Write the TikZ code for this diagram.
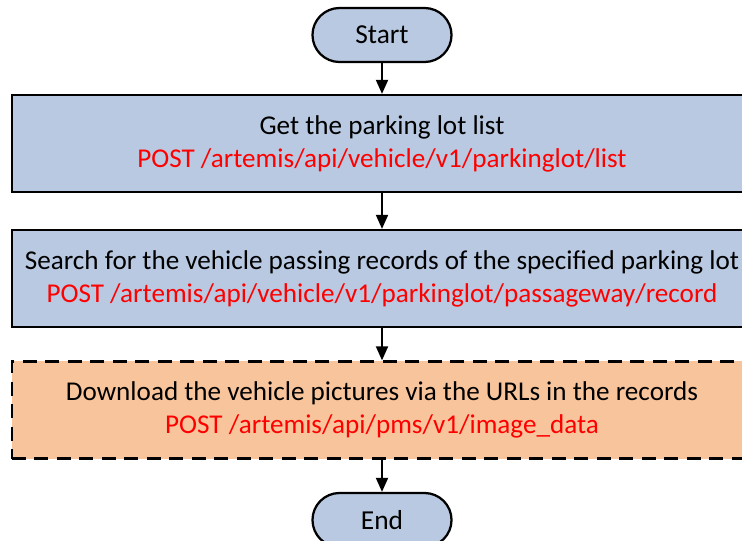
\documentclass[tikz,border=0pt]{standalone}
\usepackage{fontspec}
\setmainfont{Carlito}
\usetikzlibrary{arrows.meta}

\definecolor{boxblue}{RGB}{184,201,225}
\definecolor{boxorange}{RGB}{248,196,156}

\tikzset{
  terminal/.style={draw, line width=1.6pt, fill=boxblue, rounded corners=0.675cm,
    minimum width=3.475cm, minimum height=1.35cm, font=\fontsize{19.5}{23}\selectfont},
  process/.style={draw, line width=1.6pt, fill=boxblue, minimum width=18.5cm,
    minimum height=2.425cm, align=center, font=\fontsize{19.3}{23.4}\selectfont},
  download/.style={process, fill=boxorange, dash pattern=on 10pt off 6pt},
  flow/.style={line width=1.3pt, -{Triangle[length=0.35cm,width=0.3cm]}}
}

\begin{document}
\begin{tikzpicture}[x=0.025cm, y=-0.025cm]
  \clip (0,0) rectangle (742,540);
  \node[terminal] (start) at (382,35) {Start};
  \node[process] (list) at (382,143.5) {Get the parking lot list\\
    \textcolor{red}{POST /artemis/api/vehicle/v1/parkinglot/list}};
  \node[process] (search) at (382,278.5) {Search for the vehicle passing records of the specified parking lot\\
    \textcolor{red}{POST /artemis/api/vehicle/v1/parkinglot/passageway/record}};
  \node[download] (image) at (382,410) {Download the vehicle pictures via the URLs in the records\\
    \textcolor{red}{POST /artemis/api/pms/v1/image\_data}};
  \node[terminal] (end) at (382,520) {End};
  % arrows
  \draw[flow] (start) -- (list);
  \draw[flow] (list) -- (search);
  \draw[flow] (search) -- (image);
  \draw[flow] (image) -- (end);
\end{tikzpicture}
\end{document}
